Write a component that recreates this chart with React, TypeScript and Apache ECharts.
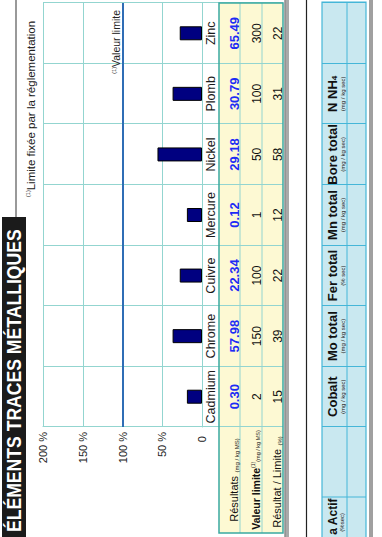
import React, { useEffect, useRef } from "react";
import * as echarts from "echarts";

// ---------- data ----------
const categories = ["Cadmium", "Chrome", "Cuivre", "Mercure", "Nickel", "Plomb", "Zinc"];
// bar lengths (% of the limit) as drawn in the picture
const barValues = [19, 37, 28, 19, 56, 37, 28];
const resultats = ["0.30", "57.98", "22.34", "0.12", "29.18", "30.79", "65.49"];
const valeursLimite = ["2", "150", "100", "1", "50", "100", "300"];
const ratios = ["15", "39", "22", "12", "58", "31", "22"];
const valueMin = 0;
const valueMax = 200;
const valueStep = 50;
const limitValue = 100;
const otherNames = ["Cobalt", "Mo total", "Fer total", "Mn total", "Bore total", "N NH4", ""];
const otherUnits = ["(mg / kg sec)", "(mg / kg sec)", "(% sec)", "(mg / kg sec)", "(mg / kg sec)", "(mg / kg sec)", ""];

// ---------- layout (un-rotated page, then turned 90° counter-clockwise) ----------
const W = 537;
const H = 382;
const FONT = '"Liberation Sans", Arial, sans-serif';
const TEAL = "#93d5d0";
const TEAL_DARK = "#3aa9a1";
const BLUE_BORDER = "#45b6d8";

export default function App() {
  const ref = useRef<HTMLDivElement>(null);

  useEffect(() => {
    const el = ref.current;
    if (!el) return;
    const chart = echarts.init(el, undefined, { renderer: "svg", width: W, height: H });

    const option: any = {
      animation: false,
      backgroundColor: "#ffffff",
      textStyle: { fontFamily: FONT },
      grid: { left: 110, right: 3, top: 43, bottom: 180, containLabel: false },
      xAxis: [
        {
          type: "category",
          data: categories,
          position: "bottom",
          boundaryGap: true,
          axisLine: { show: true, lineStyle: { color: TEAL, width: 1 } },
          axisTick: { show: true, length: 17, lineStyle: { color: TEAL } },
          axisLabel: { margin: 2, fontSize: 12.5, color: "#1a1a1a", interval: 0, fontFamily: FONT },
          splitLine: { show: true, lineStyle: { color: TEAL, width: 1 } },
        },
        {
          type: "category",
          data: resultats,
          position: "bottom",
          offset: 17,
          axisLine: { show: false },
          axisTick: { show: true, length: 64, lineStyle: { color: TEAL } },
          axisLabel: { margin: 8.5, fontSize: 13, fontWeight: "bold", color: "#1d2cf5", interval: 0, fontFamily: FONT },
          splitLine: { show: false },
        },
        {
          type: "category",
          data: valeursLimite,
          position: "bottom",
          offset: 38,
          axisLine: { show: false },
          axisTick: { show: false },
          axisLabel: { margin: 10.5, fontSize: 12, color: "#111", interval: 0, fontFamily: FONT },
          splitLine: { show: false },
        },
        {
          type: "category",
          data: ratios,
          position: "bottom",
          offset: 60,
          axisLine: { show: false },
          axisTick: { show: false },
          axisLabel: { margin: 9.5, fontSize: 12, color: "#111", interval: 0, fontFamily: FONT },
          splitLine: { show: false },
        },
        {
          type: "category",
          data: otherNames,
          position: "bottom",
          offset: 120,
          axisLine: { show: false },
          axisTick: { show: true, length: 44, lineStyle: { color: BLUE_BORDER } },
          axisLabel: {
            margin: 4.5,
            interval: 0,
            fontFamily: FONT,
            formatter: (v: string, i: number) => {
              if (!v) return "";
              const title = v === "N NH4" ? "{t|N NH}{sb|4}" : "{t|" + v + "}";
              return title + "\n{u|" + otherUnits[i] + "}";
            },
            rich: {
              t: { fontSize: 13, fontWeight: "bold", color: "#111", lineHeight: 12, fontFamily: FONT },
              sb: { fontSize: 8, fontWeight: "bold", color: "#111", lineHeight: 12, verticalAlign: "bottom", fontFamily: FONT },
              u: { fontSize: 6, color: "#222", lineHeight: 8, fontFamily: FONT },
            },
          },
          splitLine: { show: false },
        },
      ],
      yAxis: {
        type: "value",
        min: valueMin,
        max: valueMax,
        interval: valueStep,
        axisLine: { show: true, lineStyle: { color: TEAL } },
        axisTick: { show: false },
        axisLabel: {
          fontSize: 11,
          color: "#222",
          margin: 5,
          fontFamily: FONT,
          formatter: (v: number) => (v === 0 ? "{z|0}" : v + " %"),
          rich: { z: { fontSize: 11, color: "#222", padding: [0, 4, 0, 0], fontFamily: FONT } },
        },
        splitLine: { show: true, lineStyle: { color: TEAL, width: 1 } },
      },
      series: [
        {
          type: "bar",
          xAxisIndex: 0,
          yAxisIndex: 0,
          data: barValues,
          barWidth: 14,
          itemStyle: { color: "#000080", borderColor: "#000", borderWidth: 1 },
          markLine: {
            silent: true,
            symbol: "none",
            lineStyle: { color: "#2f6db5", width: 2, type: "solid" },
            label: {
              show: true,
              position: "insideEndTop",
              distance: [7, 1],
              formatter: "{s|(1)}{b|Valeur limite}",
              rich: {
                s: { fontSize: 5.5, color: "#222", verticalAlign: "top", fontFamily: FONT },
                b: { fontSize: 10.5, color: "#222", fontFamily: FONT },
              },
            },
            data: [{ yAxis: limitValue }],
          },
        },
      ],
      graphic: {
        elements: [
          // title box
          { type: "rect", shape: { x: 0, y: 2, width: 320, height: 24 }, style: { fill: "#1b1b1b" }, z: 1 },
          {
            type: "text",
            x: 5,
            y: 14.5,
            scaleX: 0.88,
            style: {
              text: "ÉLÉMENTS TRACES MÉTALLIQUES",
              fill: "#ffffff",
              font: 'bold 20px "Liberation Sans", Arial, sans-serif',
              verticalAlign: "middle",
              align: "left",
            },
            z: 2,
          },
          // frame line
          { type: "line", shape: { x1: 320, y1: 16, x2: 537, y2: 16 }, style: { stroke: "#555", lineWidth: 1.2 }, z: 1 },
          // footnote
          {
            type: "text",
            x: 340,
            y: 30.5,
            style: {
              text: "{s|(1)}{t|Limite fixée par la réglementation}",
              rich: {
                s: { fontSize: 5.5, fill: "#222", verticalAlign: "top", fontFamily: FONT },
                t: { fontSize: 11.5, fill: "#222", fontFamily: FONT },
              },
              align: "left",
              verticalAlign: "middle",
            },
            z: 2,
          },
          // yellow table background
          { type: "rect", shape: { x: 4, y: 219, width: 530, height: 64 }, style: { fill: "#fdf9d3" }, z: -1 },
          { type: "line", shape: { x1: 4, y1: 240, x2: 534, y2: 240 }, style: { stroke: TEAL, lineWidth: 1 }, z: 3 },
          { type: "line", shape: { x1: 4, y1: 262, x2: 534, y2: 262 }, style: { stroke: TEAL, lineWidth: 1 }, z: 3 },
          { type: "rect", shape: { x: 4, y: 219, width: 530, height: 64 }, style: { fill: "none", stroke: TEAL_DARK, lineWidth: 1.5 }, z: 4 },
          // yellow table row headers
          {
            type: "text",
            x: 57,
            y: 234,
            style: {
              text: "{a|Résultats} {u|(mg / kg MS)}",
              rich: {
                a: { fontSize: 11, fill: "#111", fontFamily: FONT },
                u: { fontSize: 6, fill: "#222", verticalAlign: "bottom", fontFamily: FONT },
              },
              align: "center",
              verticalAlign: "middle",
            },
            z: 5,
          },
          {
            type: "text",
            x: 57,
            y: 255.5,
            style: {
              text: "{b|Valeur limite}{s|(1)}{u|(mg / kg MS)}",
              rich: {
                b: { fontSize: 10.5, fontWeight: "bold", fill: "#111", fontFamily: FONT },
                s: { fontSize: 5, fill: "#222", verticalAlign: "top", fontFamily: FONT },
                u: { fontSize: 5.5, fill: "#222", verticalAlign: "bottom", fontFamily: FONT },
              },
              align: "center",
              verticalAlign: "middle",
            },
            z: 5,
          },
          {
            type: "text",
            x: 55,
            y: 276.5,
            style: {
              text: "{a|Résultat / Limite} {u|(%)}",
              rich: {
                a: { fontSize: 11, fill: "#111", fontFamily: FONT },
                u: { fontSize: 6, fill: "#222", verticalAlign: "bottom", fontFamily: FONT },
              },
              align: "center",
              verticalAlign: "middle",
            },
            z: 5,
          },
          // frame edge with shadow
          { type: "rect", shape: { x: 0, y: 285.5, width: 537, height: 3.5 }, style: { fill: "#a9a9a9" }, z: 1 },
          { type: "line", shape: { x1: 0, y1: 285, x2: 537, y2: 285 }, style: { stroke: "#555", lineWidth: 1 }, z: 2 },
          // black line of the second frame
          { type: "line", shape: { x1: 0, y1: 306.5, x2: 537, y2: 306.5 }, style: { stroke: "#222", lineWidth: 1.2 }, z: 1 },
          // blue table
          { type: "rect", shape: { x: -2, y: 322, width: 537, height: 44 }, style: { fill: "#c9e8f0" }, z: -1 },
          { type: "line", shape: { x1: -2, y1: 347, x2: 535, y2: 347 }, style: { stroke: BLUE_BORDER, lineWidth: 1 }, z: 3 },
          { type: "line", shape: { x1: 40, y1: 322, x2: 40, y2: 366 }, style: { stroke: BLUE_BORDER, lineWidth: 1 }, z: 3 },
          { type: "rect", shape: { x: -2, y: 322, width: 537, height: 44 }, style: { fill: "none", stroke: BLUE_BORDER, lineWidth: 1.2 }, z: 4 },
          { type: "rect", shape: { x: 0, y: 369, width: 537, height: 4 }, style: { fill: "#a0a0a0" }, z: 1 },
          {
            type: "text",
            x: 38.5,
            y: 332.5,
            style: { text: "a Actif", font: 'bold 12px "Liberation Sans", Arial, sans-serif', fill: "#111", align: "right", verticalAlign: "middle" },
            z: 5,
          },
          {
            type: "text",
            x: 24,
            y: 341.5,
            style: { text: "(%sec)", font: '6px "Liberation Sans", Arial, sans-serif', fill: "#222", align: "right", verticalAlign: "middle" },
            z: 5,
          },
        ],
      },
    };

    chart.setOption(option);
    return () => chart.dispose();
  }, []);

  return (
    <div
      ref={ref}
      style={{
        position: "absolute",
        left: 0,
        top: 0,
        width: W,
        height: H,
        transformOrigin: "0 0",
        transform: `translate(0px, ${W}px) rotate(-90deg)`,
        background: "#ffffff",
      }}
    />
  );
}
